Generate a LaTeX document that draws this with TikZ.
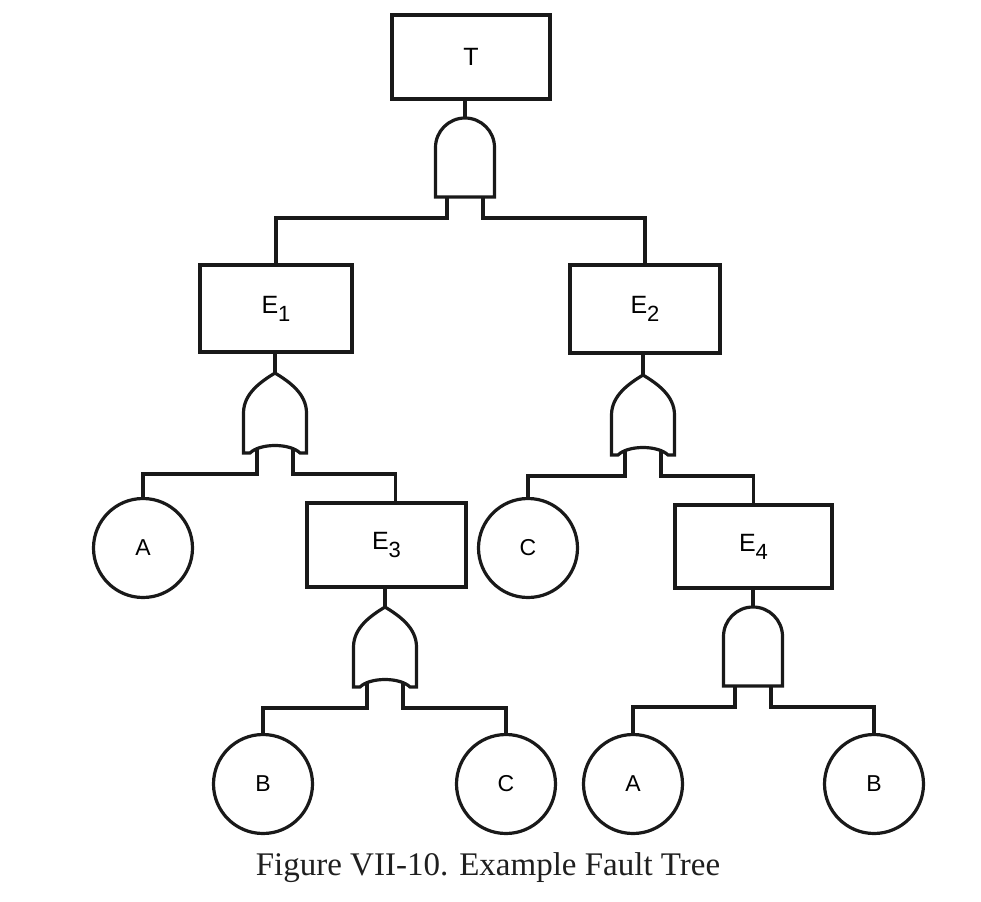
\documentclass[tikz,border=0pt]{standalone}
\usepackage{fontspec}
\setmainfont{Liberation Serif}
\setsansfont{Liberation Sans}
\newcommand\evsub[1]{\raisebox{-8pt}{\fontsize{22}{22}\selectfont #1}}
\tikzset{
  ink/.style={line width=3.2pt, draw=black!90},
  event/.style={ink, rectangle, inner sep=0pt, font=\sffamily\fontsize{25}{25}\selectfont},
  basic/.style={ink, circle, minimum size=99pt, inner sep=0pt, font=\sffamily\fontsize{23}{23}\selectfont},
  caption/.style={font=\fontsize{33}{33}\selectfont, text=black!88, inner sep=0pt},
  % AND gate: origin at the top of the dome
  andgate/.pic={
    \draw[ink, fill=white] (-29.5,79) -- (-29.5,29.5)
      arc[start angle=180, end angle=360, radius=29.5] -- (29.5,79) -- cycle;
    \coordinate (-top) at (0,0);
    \coordinate (-l) at (-18,79);
    \coordinate (-lh) at (-18,100);
    \coordinate (-r) at (18,79);
    \coordinate (-rh) at (18,100);
  },
  % OR gate: origin at the pointed tip
  orgate/.pic={
    \draw[ink, fill=white] (0,0) .. controls (-13,8) and (-31.5,20) .. (-31.5,40)
      -- (-31.5,80) -- (-25,80) .. controls (-15,70) and (15,70) .. (25,80)
      -- (31.5,80) -- (31.5,40) .. controls (31.5,20) and (13,8) .. (0,0) -- cycle;
    \coordinate (-top) at (0,0);
    \coordinate (-l) at (-18,75.5);
    \coordinate (-lh) at (-18,101);
    \coordinate (-r) at (18,75.5);
    \coordinate (-rh) at (18,101);
  }
}
\begin{document}
\begin{tikzpicture}[x=1pt, y=-1pt]
  \useasboundingbox[fill=white] (0,0) rectangle (981,901);

  % events
  \node[event, minimum width=158pt, minimum height=84pt] (T)  at (471,57)    {T};
  \node[event, minimum width=152pt, minimum height=87pt] (E1) at (276,308.5) {E\evsub{1}};
  \node[event, minimum width=150pt, minimum height=88pt] (E2) at (645,309)   {E\evsub{2}};
  \node[event, minimum width=159pt, minimum height=84pt] (E3) at (386.5,545) {E\evsub{3}};
  \node[event, minimum width=157pt, minimum height=83pt] (E4) at (753.5,546.5) {E\evsub{4}};

  % basic events
  \node[basic] (A1) at (143,548) {A};
  \node[basic] (C1) at (528,548) {C};
  \node[basic] (B1) at (263,784) {B};
  \node[basic] (C2) at (506,784) {C};
  \node[basic] (A2) at (633,784) {A};
  \node[basic] (B2) at (874,784) {B};

  % gates
  \pic (g0) at (465,118) {andgate};
  \pic (g1) at (275,373) {orgate};
  \pic (g2) at (643,375) {orgate};
  \pic (g3) at (385,607) {orgate};
  \pic (g4) at (753,607) {andgate};

  % gate outputs up to their events
  \draw[ink] (g0-top) -- (g0-top |- T.south);
  \draw[ink] (g1-top) -- (g1-top |- E1.south);
  \draw[ink] (g2-top) -- (g2-top |- E2.south);
  \draw[ink] (g3-top) -- (g3-top |- E3.south);
  \draw[ink] (g4-top) -- (g4-top |- E4.south);

  % gate inputs down to their causes
  \draw[ink] (g0-l) -- (g0-lh) -| (E1.north);
  \draw[ink] (g0-r) -- (g0-rh) -| (E2.north);
  \draw[ink] (g1-l) -- (g1-lh) -| (A1.north);
  \draw[ink] (g1-r) -- (g1-rh) -| ([xshift=9pt]E3.north);
  \draw[ink] (g2-l) -- (g2-lh) -| (C1.north);
  \draw[ink] (g2-r) -- (g2-rh) -| (E4.north);
  \draw[ink] (g3-l) -- (g3-lh) -| (B1.north);
  \draw[ink] (g3-r) -- (g3-rh) -| (C2.north);
  \draw[ink] (g4-l) -- (g4-lh) -| (A2.north);
  \draw[ink] (g4-r) -- (g4-rh) -| (B2.north);

  \node[caption, anchor=base] (cap) at (488,875) {Figure VII-10. Example Fault Tree};
\end{tikzpicture}
\end{document}
